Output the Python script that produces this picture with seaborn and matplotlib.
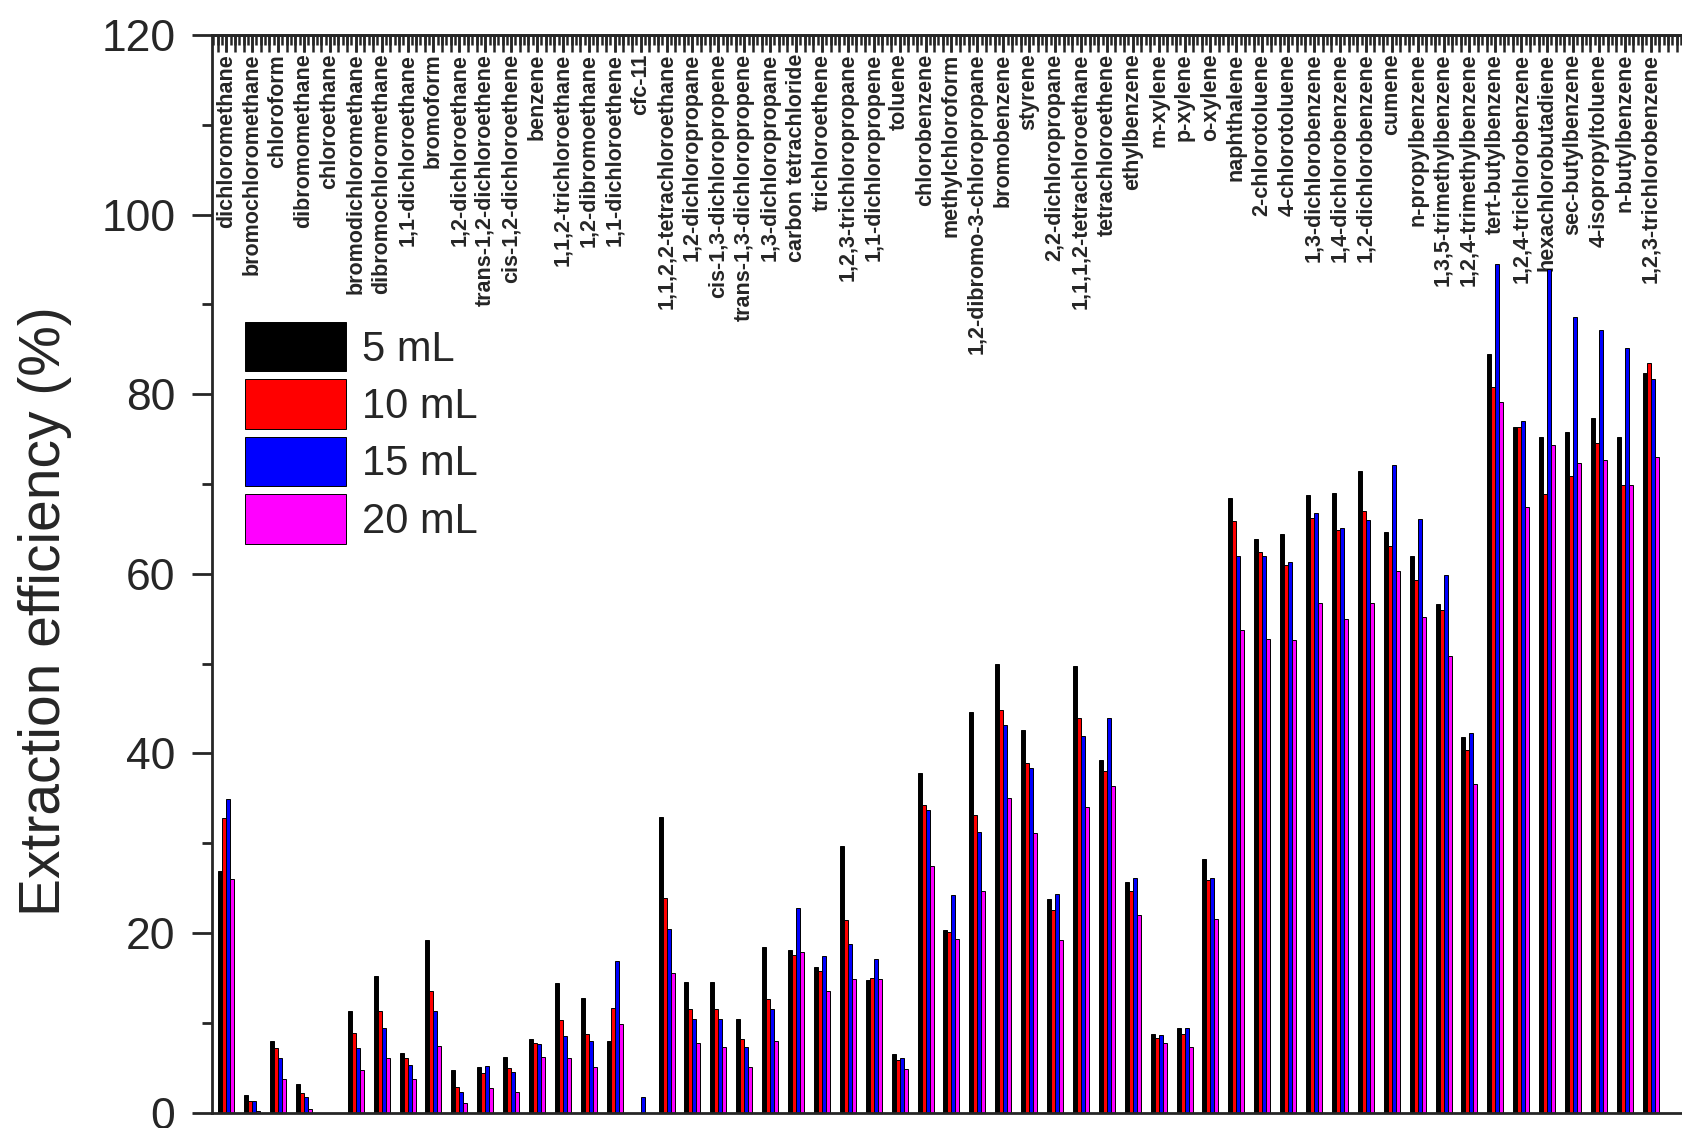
import numpy as np
import pandas as pd
import matplotlib
matplotlib.use('Agg')
import matplotlib.pyplot as plt
from matplotlib.ticker import MultipleLocator, NullLocator
import seaborn as sns

compounds = [
    'dichloromethane', 'bromochloromethane', 'chloroform', 'dibromomethane',
    'chloroethane', 'bromodichloromethane', 'dibromochloromethane',
    '1,1-dichloroethane', 'bromoform', '1,2-dichloroethane',
    'trans-1,2-dichloroethene', 'cis-1,2-dichloroethene', 'benzene',
    '1,1,2-trichloroethane', '1,2-dibromoethane', '1,1-dichloroethene', 'cfc-11',
    '1,1,2,2-tetrachloroethane', '1,2-dichloropropane', 'cis-1,3-dichloropropene',
    'trans-1,3-dichloropropene', '1,3-dichloropropane', 'carbon tetrachloride',
    'trichloroethene', '1,2,3-trichloropropane', '1,1-dichloropropene', 'toluene',
    'chlorobenzene', 'methylchloroform', '1,2-dibromo-3-chloropropane',
    'bromobenzene', 'styrene', '2,2-dichloropropane', '1,1,1,2-tetrachloroethane',
    'tetrachloroethene', 'ethylbenzene', 'm-xylene', 'p-xylene', 'o-xylene',
    'naphthalene', '2-chlorotoluene', '4-chlorotoluene', '1,3-dichlorobenzene',
    '1,4-dichlorobenzene', '1,2-dichlorobenzene', 'cumene', 'n-propylbenzene',
    '1,3,5-trimethylbenzene', '1,2,4-trimethylbenzene', 'tert-butylbenzene',
    '1,2,4-trichlorobenzene', 'hexachlorobutadiene', 'sec-butylbenzene',
    '4-isopropyltoluene', 'n-butylbenzene', '1,2,3-trichlorobenzene',
]

eff_5ml = [26.9, 2.0, 8.0, 3.2, 0, 11.3, 15.2, 6.6, 19.2, 4.7, 5.1, 6.2, 8.2, 14.4,
           12.8, 8.0, 0, 32.9, 14.5, 14.5, 10.4, 18.4, 18.1, 16.2, 29.7, 14.8, 6.5,
           37.8, 20.3, 44.6, 50.0, 42.6, 23.8, 49.7, 39.3, 25.7, 8.8, 9.4, 28.2, 68.4,
           63.9, 64.4, 68.8, 69.0, 71.4, 64.7, 62.0, 56.6, 41.8, 84.5, 76.4, 75.2,
           75.8, 77.3, 75.2, 82.4]
eff_10ml = [32.8, 1.3, 7.2, 2.2, 0, 8.9, 11.3, 6.1, 13.6, 2.9, 4.4, 5.0, 7.8, 10.3,
            8.8, 11.7, 0, 23.9, 11.5, 11.5, 8.2, 12.7, 17.6, 15.8, 21.5, 15.0, 5.9,
            34.3, 20.1, 33.1, 44.8, 38.9, 22.6, 43.9, 38.1, 24.7, 8.3, 8.8, 25.9, 65.9,
            62.4, 61.0, 66.2, 64.9, 67.0, 63.1, 59.3, 56.0, 40.4, 80.8, 76.4, 68.9,
            70.9, 74.6, 69.9, 83.5]
eff_15ml = [34.9, 1.3, 6.1, 1.8, 0, 7.2, 9.4, 5.3, 11.3, 2.3, 5.2, 4.5, 7.6, 8.5,
            8.0, 16.9, 1.8, 20.5, 10.4, 10.4, 7.3, 11.5, 22.8, 17.4, 18.8, 17.1, 6.1,
            33.7, 24.2, 31.2, 43.2, 38.4, 24.4, 42.0, 43.9, 26.1, 8.6, 9.4, 26.1, 62.0,
            62.0, 61.3, 66.8, 65.1, 66.0, 72.1, 66.1, 59.9, 42.3, 94.5, 77.0, 94.0,
            88.6, 87.2, 85.1, 81.7]
eff_20ml = [26.0, 0.2, 3.8, 0.4, 0, 4.7, 6.1, 3.7, 7.4, 1.1, 2.7, 2.3, 6.2, 6.1,
            5.1, 9.9, 0, 15.6, 7.8, 7.3, 5.1, 8.0, 17.9, 13.5, 14.9, 14.9, 4.9,
            27.5, 19.3, 24.7, 35.0, 31.1, 19.2, 34.0, 36.4, 22.0, 7.8, 7.3, 21.6, 53.8,
            52.8, 52.6, 56.7, 55.0, 56.8, 60.3, 55.2, 50.9, 36.6, 79.1, 67.4, 74.4,
            72.3, 72.7, 69.9, 73.0]

volumes = ['5 mL', '10 mL', '15 mL', '20 mL']
colors = ['#000000', '#ff0000', '#0000ff', '#ff00ff']

sns.set_style('ticks')
plt.rcParams['font.family'] = ['Liberation Sans', 'DejaVu Sans']

df = pd.DataFrame({
    'compound': compounds * 4,
    'volume': np.repeat(volumes, len(compounds)),
    'eff': eff_5ml + eff_10ml + eff_15ml + eff_20ml,
})

fig = plt.figure(figsize=(16.82, 11.28), dpi=100)
ax = fig.add_axes([212 / 1682, 15.3 / 1128, 1477.6 / 1682, 1077.7 / 1128])

sns.barplot(data=df, x='compound', y='eff', hue='volume', order=compounds,
            hue_order=volumes, palette=colors, saturation=1, width=0.62, gap=0,
            edgecolor='black', linewidth=0.7, errorbar=None, ax=ax)

ax.set_xlim(-0.55, 56.5)
ax.set_ylim(0, 120)
ax.set_xlabel('')
ax.set_ylabel('Extraction efficiency (%)', fontsize=41)
ax.yaxis.set_label_coords(-0.095, 0.465)

for s in ax.spines.values():
    s.set_linewidth(2)

# y axis
ax.yaxis.set_major_locator(MultipleLocator(20))
ax.yaxis.set_minor_locator(MultipleLocator(10))
ax.tick_params(axis='y', which='major', direction='out', length=14.4, width=2,
               labelsize=32, pad=12, right=False)
ax.tick_params(axis='y', which='minor', direction='out', length=7, width=2, right=False)

# x axis: compound names hang inside the frame from the top
ax.set_xticks(range(len(compounds)))
ax.set_xticklabels(compounds, rotation=90, va='top', ha='center',
                   fontweight='bold', fontsize=15.5)
ax.tick_params(axis='x', which='major', top=True, bottom=False, labeltop=True,
               labelbottom=False, direction='in', length=12, width=1.8, pad=-13.5)
ax.xaxis.set_minor_locator(MultipleLocator(1 / 6))
ax.tick_params(axis='x', which='minor', top=True, bottom=False, direction='in',
               length=7.5, width=1.8)

# long ticks every third of a category
sec = ax.secondary_xaxis('top')
sec.set_xticks(np.arange(-2 / 3, 57, 1 / 3))
sec.xaxis.set_minor_locator(NullLocator())
sec.tick_params(direction='in', length=12, width=1.8, labeltop=False)
sec.spines['top'].set_linewidth(2)

handles, labels = ax.get_legend_handles_labels()
ax.legend(handles, labels, loc='upper left', bbox_to_anchor=(0.0223, 0.7337),
          frameon=False, fontsize=30, handlelength=2.42, handleheight=1.45,
          labelspacing=0.19, handletextpad=0.4, borderpad=0, borderaxespad=0)

fig.savefig('out.png', dpi=100)
